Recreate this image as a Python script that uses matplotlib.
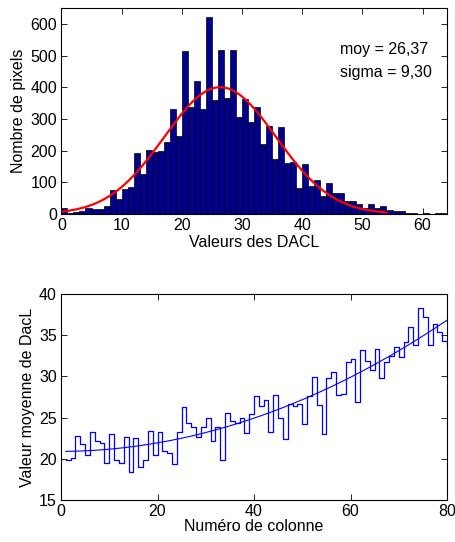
import numpy as np
import matplotlib
matplotlib.use("Agg")
import matplotlib.pyplot as plt

plt.rcParams['font.family'] = ['Liberation Sans', 'DejaVu Sans']
FS = 11.5

# ---- Histogram data (DACL values 0..63) ----
bin_left = list(range(64))
counts = [18, 4, 5, 8, 19, 15, 15, 25, 75, 46,
          79, 86, 192, 125, 203, 195, 199, 226, 331, 245,
          515, 337, 420, 330, 622, 360, 519, 367, 518, 305,
          364, 289, 337, 221, 278, 172, 273, 162, 163, 83,
          157, 87, 106, 58, 99, 67, 65, 40, 40, 30,
          20, 30, 20, 26, 14, 8, 8, 2, 3, 1,
          3, 1, 2, 2]
moy = 26.37
sigma = 9.30
gauss_peak = 400
gauss_range = [0, 54]
hist_xticks = [0, 10, 20, 30, 40, 50, 60]
hist_yticks = [0, 100, 200, 300, 400, 500, 600]

# ---- Column mean data (columns 1..80) ----
colonnes = list(range(1, 81))
moyennes = [19.8, 20.1, 22.8, 21.8, 20.5, 23.3, 22.1, 21.9, 19.5, 23.0,
            19.85, 19.5, 22.7, 18.4, 22.5, 19.05, 19.8, 23.4, 20.5, 23.2,
            20.9, 20.7, 19.4, 23.2, 26.3, 24.4, 23.9, 22.6, 23.9, 24.9,
            22.2, 23.8, 19.8, 25.6, 24.6, 24.4, 24.9, 23.1, 25.4, 27.6,
            26.4, 27.1, 23.3, 27.8, 24.9, 22.4, 26.7, 26.4, 26.7, 24.2,
            27.6, 29.9, 26.5, 23.0, 29.8, 30.5, 27.8, 27.9, 31.8, 32.1,
            26.9, 33.2, 31.9, 30.8, 33.3, 29.8, 31.8, 32.5, 33.6, 32.4,
            34.2, 36.0, 33.8, 38.3, 37.2, 33.8, 36.4, 35.4, 34.3, 33.6]
col_xticks = [0, 20, 40, 60, 80]
col_yticks = [15, 20, 25, 30, 35, 40]

W, H = 455, 542
fig = plt.figure(figsize=(W / 100, H / 100), dpi=100)

def style(ax):
    ax.tick_params(direction='in', top=True, right=True, length=4, width=0.6,
                   labelsize=FS, pad=3)
    for s in ax.spines.values():
        s.set_linewidth(0.8)

# Top histogram
ax1 = fig.add_axes([61.4 / W, 1 - 214 / H, (446.7 - 61.4) / W, (214 - 8) / H])
ax1.bar(bin_left, counts, width=1, align='edge', color=(0, 0, 0.5625),
        edgecolor='black', linewidth=0.5)
xg = np.linspace(gauss_range[0], gauss_range[1], 300)
yg = gauss_peak * np.exp(-(xg - moy) ** 2 / (2 * sigma ** 2))
ax1.plot(xg, yg, color='red', linewidth=1.6)
ax1.set_xlim(0, 64)
ax1.set_ylim(0, 650)
ax1.set_xticks(hist_xticks)
ax1.set_yticks(hist_yticks)
ax1.set_xlabel('Valeurs des DACL', fontsize=FS, labelpad=1)
ax1.set_ylabel('Nombre de pixels', fontsize=FS, labelpad=3)
ax1.text(46.3, 520, 'moy = 26,37', fontsize=FS, va='center', ha='left')
ax1.text(46.3, 445, 'sigma = 9,30', fontsize=FS, va='center', ha='left')
style(ax1)

# Bottom stairs
ax2 = fig.add_axes([61 / W, 1 - 500 / H, (447 - 61) / W, (500 - 294) / H])
ax2.step(colonnes, moyennes, where='post', color='blue', linewidth=0.9)
coef = np.polyfit(colonnes, moyennes, 2)
xf = np.linspace(colonnes[0], colonnes[-1], 200)
ax2.plot(xf, np.polyval(coef, xf), color='blue', linewidth=0.8)
ax2.set_xlim(0, 80)
ax2.set_ylim(15, 40)
ax2.set_xticks(col_xticks)
ax2.set_yticks(col_yticks)
ax2.set_xlabel('Numéro de colonne', fontsize=FS, labelpad=0)
ax2.set_ylabel('Valeur moyenne de DacL', fontsize=FS, labelpad=3)
style(ax2)

fig.savefig('out.png', dpi=100)
